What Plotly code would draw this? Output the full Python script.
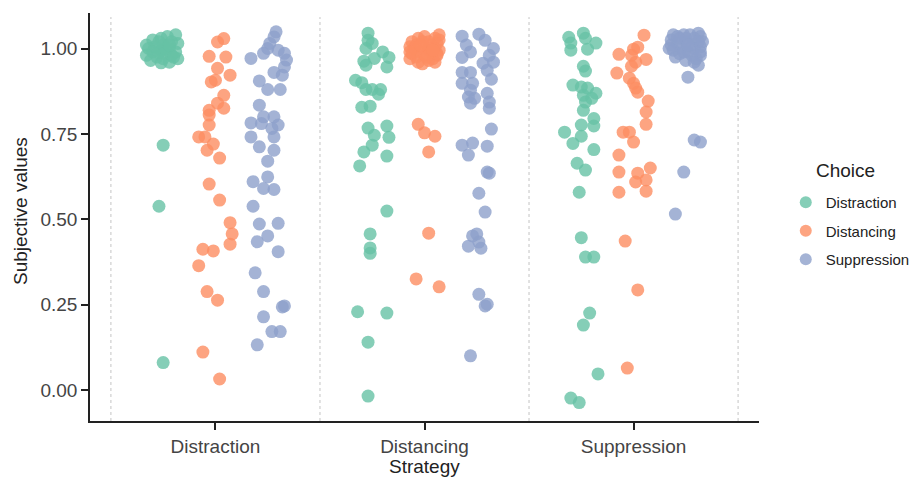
import plotly.graph_objects as go

strategies = ["Distraction", "Distancing", "Suppression"]
choices = ["Distraction", "Distancing", "Suppression"]
colors = ["#66c2a5", "#fc8d62", "#8da0cb"]

# ---- Strategy: Distraction ----
tra_dis_vals = [1.04, 1.035, 1.03, 1.025, 1.02, 1.015, 1.01, 1.01, 1.005, 1.0, 1.0, 0.995, 0.99, 0.99,
                0.985, 0.98, 0.98, 0.975, 0.97, 0.97, 0.965, 0.96, 0.958, 0.99, 1.0, 1.02, 0.975, 1.01,
                0.717, 0.538, 0.08]
tra_dis_jit = [0.06, 0.02, -0.01, -0.05, 0.04, 0.07, -0.08, 0.0, -0.04, 0.03, -0.07, -0.01, 0.06, -0.05,
               0.01, -0.08, 0.04, -0.03, 0.0, 0.07, -0.06, 0.03, -0.01, -0.02, 0.01, -0.02, 0.05, 0.03,
               0.0, -0.02, 0.0]
tra_dst_vals = [1.029, 1.019, 0.977, 0.975, 0.942, 0.922, 0.902, 0.907, 0.863, 0.84, 0.825, 0.819, 0.805,
                0.776, 0.741, 0.741, 0.72, 0.702, 0.679, 0.603, 0.556, 0.49, 0.457, 0.427, 0.412, 0.407,
                0.364, 0.288, 0.263, 0.111, 0.032]
tra_dst_jit = [0.04, 0.01, -0.03, 0.05, 0.01, 0.07, -0.02, 0.0, 0.04, 0.01, 0.04, -0.03, -0.03,
               -0.03, -0.08, -0.05, -0.01, -0.04, 0.02, -0.03, 0.02, 0.07, 0.08, 0.07, -0.06, -0.01,
               -0.08, -0.04, 0.01, -0.06, 0.02]
tra_sup_vals = [1.049, 1.034, 1.015, 1.0, 0.995, 0.986, 0.986, 0.971, 0.966, 0.946, 0.93, 0.922, 0.905,
                0.88, 0.88, 0.834, 0.80, 0.80, 0.782, 0.78, 0.776, 0.766, 0.741, 0.741, 0.712, 0.702,
                0.67, 0.624, 0.61, 0.59, 0.587, 0.538, 0.486, 0.488, 0.451, 0.434, 0.405, 0.343, 0.288,
                0.246, 0.243, 0.214, 0.171, 0.171, 0.132]
tra_sup_jit = [0.04, 0.03, 0.01, 0.0, 0.05, 0.08, -0.02, -0.08, 0.09, 0.08, 0.03, 0.07, -0.04,
               0.0, 0.06, -0.04, -0.02, 0.03, -0.08, -0.03, 0.05, 0.02, -0.08, 0.03, -0.04, 0.03,
               0.0, 0.0, -0.07, -0.02, 0.03, -0.07, -0.04, 0.05, 0.0, -0.05, 0.05, -0.06, -0.02,
               0.08, 0.07, -0.02, 0.02, 0.06, -0.05]

# ---- Strategy: Distancing ----
dst_dis_vals = [1.045, 1.024, 1.015, 1.0, 0.99, 0.971, 0.974, 0.963, 0.951, 0.946, 0.907, 0.90, 0.88, 0.88,
                0.88, 0.866, 0.828, 0.831, 0.767, 0.773, 0.746, 0.74, 0.717, 0.697, 0.685, 0.656, 0.524,
                0.457, 0.416, 0.40, 0.229, 0.225, 0.14, -0.018]
dst_dis_jit = [-0.02, -0.02, 0.0, -0.03, 0.05, 0.01, 0.08, -0.04, -0.03, 0.07, -0.08, -0.05, -0.03, 0.0,
               0.04, 0.03, -0.05, -0.01, -0.02, 0.07, 0.01, 0.08, 0.0, -0.04, 0.07, -0.06, 0.07,
               -0.01, -0.01, -0.01, -0.07, 0.07, -0.02, -0.02]
dst_dst_vals = [1.04, 1.035, 1.03, 1.03, 1.025, 1.02, 1.02, 1.015, 1.01, 1.01, 1.005, 1.0, 1.0, 1.0, 0.995,
                0.99, 0.99, 0.985, 0.98, 0.98, 0.975, 0.97, 0.97, 0.965, 0.96, 0.96, 0.955, 1.0, 0.99,
                1.02, 0.985, 0.975, 1.01, 0.995,
                0.778, 0.753, 0.743, 0.697, 0.459, 0.325, 0.302]
dst_dst_jit = [0.07, 0.0, 0.05, -0.03, 0.07, -0.06, 0.02, 0.06, -0.04, 0.03, -0.07, 0.0, 0.05, -0.05, 0.07,
               -0.02, 0.03, -0.06, 0.06, 0.0, -0.04, 0.04, -0.07, 0.02, -0.03, 0.05, -0.01, 0.02, -0.07,
               -0.01, 0.06, 0.01, -0.02, 0.04,
               -0.03, 0.0, 0.05, 0.02, 0.02, -0.04, 0.07]
dst_sup_vals = [1.036, 1.042, 1.024, 1.01, 1.0, 0.99, 0.98, 0.974, 0.96, 0.957, 0.936, 0.93, 0.93, 0.91,
                0.898, 0.898, 0.878, 0.869, 0.858, 0.854, 0.843, 0.84, 0.825, 0.764, 0.717, 0.723, 0.714,
                0.688, 0.638, 0.635, 0.576, 0.521, 0.457, 0.451, 0.433, 0.421, 0.415, 0.28, 0.251, 0.246,
                0.10]
dst_sup_jit = [-0.07, 0.01, 0.04, -0.05, 0.08, -0.03, 0.06, -0.07, 0.08, 0.03, 0.05, -0.07, -0.03, 0.07,
               -0.07, -0.02, -0.03, 0.05, -0.04, -0.01, 0.06, -0.03, 0.06, 0.07, -0.07, -0.02, 0.05,
               -0.04, 0.05, 0.06, 0.01, 0.04, 0.0, -0.02, 0.01, -0.04, 0.02, 0.01, 0.05, 0.04,
               -0.03]

# ---- Strategy: Suppression ----
sup_dis_vals = [1.033, 1.045, 1.016, 1.03, 1.016, 0.995, 0.998, 0.948, 0.934, 0.893, 0.887, 0.884, 0.869,
                0.863, 0.854, 0.843, 0.819, 0.795, 0.773, 0.776, 0.755, 0.743, 0.722, 0.704, 0.664, 0.644,
                0.579, 0.446, 0.389, 0.389, 0.225, 0.19, 0.047, -0.024, -0.037]
sup_dis_jit = [-0.06, 0.01, -0.05, 0.02, 0.07, -0.05, 0.03, 0.01, 0.02, -0.04, 0.0, 0.03, 0.07,
               0.01, 0.05, 0.02, 0.01, 0.06, 0.06, 0.0, -0.08, 0.0, -0.04, 0.06, -0.02, 0.02,
               -0.01, 0.0, 0.02, 0.06, 0.04, 0.01, 0.08, -0.05, -0.01]
sup_dst_vals = [1.039, 0.998, 1.004, 0.983, 0.98, 0.968, 0.96, 0.948, 0.928, 0.913, 0.898, 0.884, 0.872,
                0.846, 0.814, 0.778, 0.755, 0.755, 0.726, 0.688, 0.65, 0.638, 0.635, 0.615, 0.609, 0.582,
                0.579, 0.436, 0.293, 0.064]
sup_dst_jit = [0.05, 0.0, 0.02, -0.07, -0.01, 0.06, 0.01, -0.01, -0.08, -0.02, 0.0, 0.01, 0.02,
               0.07, 0.06, 0.06, -0.05, -0.02, 0.0, -0.07, 0.08, -0.07, 0.02, 0.06, 0.01, 0.06,
               -0.07, -0.04, 0.02, -0.03]
sup_sup_vals = [1.045, 1.04, 1.04, 1.035, 1.03, 1.03, 1.025, 1.02, 1.02, 1.015, 1.01, 1.01, 1.005, 1.0, 1.0,
                0.995, 0.99, 0.99, 0.985, 0.98, 0.975, 0.97, 0.965, 1.03, 1.0, 1.02, 0.99, 1.04, 1.01,
                0.98, 1.035, 0.96,
                0.951, 0.916, 0.732, 0.726, 0.638, 0.515]
sup_sup_jit = [0.06, -0.06, 0.02, 0.07, -0.03, 0.04, -0.07, 0.0, 0.06, -0.04, 0.03, -0.07, 0.07, -0.02, 0.04,
               -0.06, 0.01, 0.07, -0.03, 0.03, -0.05, 0.05, 0.0, 0.0, -0.08, 0.08, -0.01, -0.01, 0.01,
               0.07, -0.04, 0.04,
               0.06, 0.01, 0.04, 0.07, -0.01, -0.05]

y_tickvals = [0.0, 0.25, 0.5, 0.75, 1.0]
y_ticktext = ["0.00", "0.25", "0.50", "0.75", "1.00"]

groups = {
    ("Distraction", "Distraction"): (tra_dis_vals, tra_dis_jit),
    ("Distraction", "Distancing"): (tra_dst_vals, tra_dst_jit),
    ("Distraction", "Suppression"): (tra_sup_vals, tra_sup_jit),
    ("Distancing", "Distraction"): (dst_dis_vals, dst_dis_jit),
    ("Distancing", "Distancing"): (dst_dst_vals, dst_dst_jit),
    ("Distancing", "Suppression"): (dst_sup_vals, dst_sup_jit),
    ("Suppression", "Distraction"): (sup_dis_vals, sup_dis_jit),
    ("Suppression", "Distancing"): (sup_dst_vals, sup_dst_jit),
    ("Suppression", "Suppression"): (sup_sup_vals, sup_sup_jit),
}

dodge = [-0.25, 0.0, 0.25]
FONT = "Liberation Sans, Arial, sans-serif"

fig = go.Figure()
for j, ch in enumerate(choices):
    xs, ys = [], []
    for i, st in enumerate(strategies):
        vals, jit = groups[(st, ch)]
        for v, d in zip(vals, jit):
            xs.append(i + dodge[j] + d)
            ys.append(v)
    fig.add_trace(go.Scatter(
        x=xs, y=ys, mode="markers", name=ch, legendgroup=ch,
        marker=dict(color=colors[j], size=13, opacity=0.8, line=dict(width=0)),
    ))

for xv in [-0.5, 0.5, 1.5, 2.5]:
    fig.add_shape(type="line", xref="x", yref="paper", x0=xv, x1=xv, y0=0, y1=0.99,
                  line=dict(color="#c4c4c4", width=1, dash="dot"), layer="below")

fig.add_annotation(text="Choice", xref="paper", yref="paper", x=1.1286, y=0.615,
                   showarrow=False, font=dict(family=FONT, size=19, color="#222222"),
                   xanchor="center", yanchor="middle")
fig.add_annotation(text="Subjective values", xref="paper", yref="paper", x=-0.1046, y=0.5147,
                   showarrow=False, textangle=-90, font=dict(family=FONT, size=19, color="#222222"),
                   xanchor="center", yanchor="middle")
fig.add_annotation(text="Strategy", xref="paper", yref="paper", x=0.5, y=-0.1127,
                   showarrow=False, font=dict(family=FONT, size=19, color="#222222"),
                   xanchor="center", yanchor="middle")

fig.update_layout(
    width=913, height=481,
    margin=dict(l=90, r=154, t=13, b=60, autoexpand=False),
    plot_bgcolor="white", paper_bgcolor="white",
    font=dict(family=FONT),
    showlegend=True,
    legend=dict(x=1.04, y=0.4657, xanchor="left", yanchor="middle",
                font=dict(family=FONT, size=15, color="#222222"),
                tracegroupgap=6, itemsizing="constant", bgcolor="rgba(0,0,0,0)"),
    xaxis=dict(range=[-0.6, 2.6], tickvals=[0, 1, 2], ticktext=strategies, automargin=False,
               showgrid=False, zeroline=False, showline=True, linecolor="#222222", linewidth=1.5,
               ticks="outside", ticklen=7, tickwidth=1.5, tickcolor="#222222",
               tickfont=dict(family=FONT, size=19, color="#444444")),
    yaxis=dict(range=[-0.091, 1.104], tickvals=y_tickvals, ticktext=y_ticktext, automargin=False,
               showgrid=False, zeroline=False, showline=True, linecolor="#222222", linewidth=1.5,
               ticks="outside", ticklen=7, tickwidth=1.5, tickcolor="#222222",
               tickfont=dict(family=FONT, size=19, color="#444444")),
)

fig.write_html("out.html", config={"displayModeBar": False},
               post_script="document.body.style.margin='0';document.body.style.overflow='hidden';")
